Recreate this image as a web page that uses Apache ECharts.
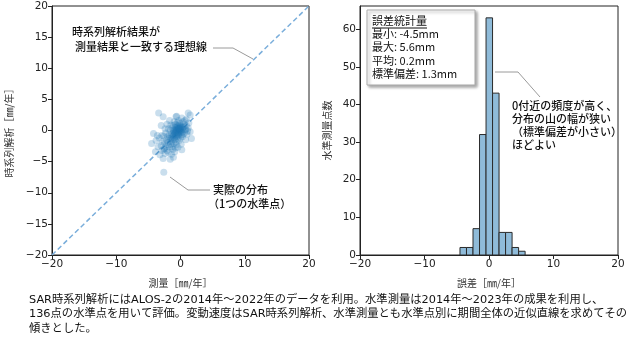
<!DOCTYPE html>
<html><head><meta charset="utf-8">
<script src="https://cdn.jsdelivr.net/npm/echarts@6/dist/echarts.min.js"></script>
<style>html,body{margin:0;padding:0;background:#fff}#c{width:628px;height:340px}</style>
</head><body><div id="c"></div>
<script>
// Scatter: measured (x) vs SAR time-series analysis (y), mm/year
const measured = [
-0.2,-0.4,-0.1,0.1,-0.3,-0.6,-0.5,-0.8,-0.9,-1.0,-0.7,-0.2,0.0,0.2,-0.4,-0.1,0.3,-0.6,-1.1,-1.2,
-0.9,-0.3,-0.5,-0.7,-0.2,0.0,0.1,-0.4,-0.8,-1.3,-1.0,-0.6,-0.3,0.0,-0.5,-0.8,-1.1,-1.4,-1.5,-1.2,
0.2,0.4,-0.1,-0.6,-0.9,-1.6,-1.8,-1.4,-0.4,0.1,
-2.0,-2.2,-1.9,-2.5,-2.3,-1.7,-2.8,-3.0,-2.6,-2.1,-1.5,-1.3,-1.0,-0.7,-0.2,0.3,0.6,0.8,0.5,0.9,
1.2,1.0,1.5,1.7,1.3,0.7,0.2,-0.7,-0.3,-1.0,-1.5,-1.9,-2.3,-2.6,-3.3,-3.6,-4.2,-4.5,-3.9,-3.2,
-2.4,-2.7,-1.6,-1.1,0.2,-0.4,-0.9,-3.4,-2.7,1.2,1.5,-0.6,
-1.8,-2.0,-1.6,-1.3,-1.1,-0.8,-0.5,0.4,0.6,0.7,0.4,0.0,-0.6,-1.2,-1.9,-2.9,-3.5,-3.8,-2.9,-2.4,
-2.1,-1.7,-3.0,-2.5,-1.4,-0.8,0.1,0.8,1.1,0.9,-2.6,-0.3,-0.9,-0.1
];
const analysis = [
0.3,0.1,0.5,0.4,-0.2,0.0,-0.4,-0.3,-0.6,-0.2,0.2,-0.1,0.1,0.6,0.6,0.9,0.2,-0.7,-0.8,-0.5,
0.1,0.4,0.3,-0.1,-0.4,-0.2,0.0,-0.6,-0.9,-1.0,-1.2,-1.0,-0.8,0.7,0.8,0.5,0.0,-0.6,-1.2,-1.4,
-0.3,0.5,1.2,0.5,-1.5,-1.6,-1.3,-1.8,-1.3,-0.7,
-1.9,-1.5,-2.3,-2.0,-2.6,-2.7,-1.8,-2.4,-3.0,-3.2,-2.2,-2.6,-2.1,-1.8,-1.6,-1.0,-0.4,0.2,1.0,0.8,
0.4,-0.6,-0.2,-1.3,1.2,1.6,2.0,2.2,1.6,1.4,0.9,0.3,-0.4,-0.9,-1.2,-0.8,-0.5,-2.1,-3.4,-3.9,
-3.7,-4.5,-4.6,-4.3,-3.1,-2.7,-3.4,2.8,2.2,2.8,2.5,2.3,
-0.7,-1.0,0.0,0.4,0.8,1.0,1.3,1.4,0.6,0.1,-0.6,-1.2,-2.3,-3.0,-3.5,-3.2,-2.6,-1.6,-0.8,0.3,
1.0,1.6,0.8,-2.9,-3.8,-2.8,-2.2,-1.5,-0.1,1.8,-6.7,0.2,-0.4,0.3
];
// Ideal 1:1 line
const idealLine = [[-20, -20], [20, 20]];
// Histogram of error
const binEdges = [-4.5, -3.49, -2.48, -1.47, -0.46, 0.55, 1.56, 2.57, 3.58, 4.59, 5.6];
const binCounts = [2, 2, 7, 32, 63, 43, 6, 6, 2, 1];
// Axis ticks / labels
const xTicksMin = -20, xTicksMax = 20;
const statsLines = ['誤差統計量', '最小: -4.5mm', '最大: 5.6mm', '平均: 0.2mm', '標準偏差: 1.3mm'];
const captionLines = [
 'SAR時系列解析にはALOS-2の2014年～2022年のデータを利用。水準測量は2014年～2023年の成果を利用し、',
 '136点の水準点を用いて評価。変動速度はSAR時系列解析、水準測量とも水準点別に期間全体の近似直線を求めてその',
 '傾きとした。'
];

const scatterData = measured.map((x, i) => [x, analysis[i]]);
const histData = binCounts.map((c, i) => [binEdges[i], binEdges[i + 1], c]);

const JP = '"Noto Sans CJK JP", sans-serif';
const CAP = '"DejaVu Sans", "Noto Sans CJK JP", sans-serif';
const NUM = '"DejaVu Sans", sans-serif';
const minus = v => String(v).replace('-', '\u2212');

function axisCommon(extra) {
  return Object.assign({
    axisLine: { show: true, onZero: false, lineStyle: { color: '#222', width: 1 } },
    axisTick: { show: true, inside: false, length: 4, lineStyle: { color: '#222' } },
    axisLabel: { color: '#222', fontFamily: NUM, fontSize: 10.5, margin: 4, formatter: minus },
    splitLine: { show: false },
    nameTextStyle: { fontFamily: JP, fontSize: 10, color: '#333' }
  }, extra);
}

const chart = echarts.init(document.getElementById('c'), null, { renderer: 'canvas' });
const gray = '#9a9a9a';
const ann = '11px ' + JP;
const capGraphics = captionLines.map((t, i) => ({
  type: 'text', left: 29, top: 294 + i * 14.5, style: { text: t, font: '11.3px ' + CAP, fill: '#111' }
}));
chart.setOption({
  animation: false,
  grid: [
    { left: 52, top: 6, width: 257, height: 249, show: true, borderColor: '#222', borderWidth: 1, backgroundColor: 'transparent' },
    { left: 360, top: 6, width: 258, height: 249, show: true, borderColor: '#222', borderWidth: 1, backgroundColor: 'transparent' }
  ],
  xAxis: [
    axisCommon({ type: 'value', gridIndex: 0, min: xTicksMin, max: xTicksMax, interval: 10, name: '測量［㎜/年］', nameLocation: 'middle', nameGap: 23 }),
    axisCommon({ type: 'value', gridIndex: 1, min: xTicksMin, max: xTicksMax, interval: 10, name: '誤差［㎜/年］', nameLocation: 'middle', nameGap: 23 })
  ],
  yAxis: [
    axisCommon({ type: 'value', gridIndex: 0, min: -20, max: 20, interval: 5, name: '時系列解析［㎜/年］', nameLocation: 'middle', nameGap: 38 }),
    axisCommon({ type: 'value', gridIndex: 1, min: 0, max: 66.15, interval: 10, name: '水準測量点数', nameLocation: 'middle', nameGap: 28,
      axisLabel: { color: '#222', fontFamily: NUM, fontSize: 10.5, margin: 4, showMaxLabel: false, formatter: v => (v % 10 === 0 ? String(v) : '') } })
  ],
  series: [
    { type: 'line', xAxisIndex: 0, yAxisIndex: 0, data: idealLine, symbol: 'none', silent: true,
      lineStyle: { color: '#7aaedb', width: 1.5, type: [5, 3] }, z: 1 },
    { type: 'scatter', xAxisIndex: 0, yAxisIndex: 0, data: scatterData, symbolSize: 7,
      itemStyle: { color: '#1f77b4', opacity: 0.24 }, z: 2 },
    { type: 'custom', xAxisIndex: 1, yAxisIndex: 1, data: histData,
      renderItem: function (params, api) {
        const p0 = api.coord([api.value(0), 0]);
        const p1 = api.coord([api.value(1), api.value(2)]);
        return { type: 'rect', shape: { x: p0[0], y: p1[1], width: p1[0] - p0[0], height: p0[1] - p1[1] },
          style: { fill: '#8fbbd9', stroke: '#2b2b2b', lineWidth: 1 } };
      }, z: 2 }
  ],
  graphic: [
    // left annotations
    { type: 'text', left: 72, top: 26, style: { text: '時系列解析結果が', font: '500 ' + ann, fill: '#111' } },
    { type: 'text', left: 75, top: 41, style: { text: '測量結果と一致する理想線', font: '500 ' + ann, fill: '#111' } },
    { type: 'polyline', shape: { points: [[213, 48], [233, 48], [253, 59]] }, style: { stroke: gray, lineWidth: 1, fill: null } },
    { type: 'text', left: 213, top: 184, style: { text: '実際の分布', font: '500 ' + ann, fill: '#111' } },
    { type: 'text', left: 208, top: 198, style: { text: '（1つの水準点）', font: '500 ' + ann, fill: '#111' } },
    { type: 'polyline', shape: { points: [[170, 177], [188, 190], [210, 190]] }, style: { stroke: gray, lineWidth: 1, fill: null } },
    // right stats box
    { type: 'rect', shape: { x: 367, y: 10, width: 108, height: 75 },
      style: { fill: '#fff', stroke: '#aaa', lineWidth: 1, shadowBlur: 3, shadowOffsetX: 2, shadowOffsetY: 2, shadowColor: 'rgba(0,0,0,0.35)' }, z: 10 },
    { type: 'text', left: 372, top: 15, style: { text: statsLines[0], font: ann, fill: '#111' }, z: 11 },
    { type: 'line', shape: { x1: 372, y1: 28, x2: 427, y2: 28 }, style: { stroke: '#111', lineWidth: 1 }, z: 11 },
    { type: 'text', left: 372, top: 27, style: { text: statsLines.slice(1).join('\n'), font: ann, fill: '#111', lineHeight: 13.5 }, z: 11 },
    // right annotation
    { type: 'text', left: 512, top: 99, style: { text: '0付近の頻度が高く、\n分布の山の幅が狭い\n（標準偏差が小さい）\nほどよい', font: '500 ' + ann, fill: '#111', lineHeight: 13 }, z: 11 },
    { type: 'polyline', shape: { points: [[495, 72], [518, 72], [540, 97]] }, style: { stroke: gray, lineWidth: 1, fill: null }, z: 11 }
  ].concat(capGraphics)
});
</script></body></html>
